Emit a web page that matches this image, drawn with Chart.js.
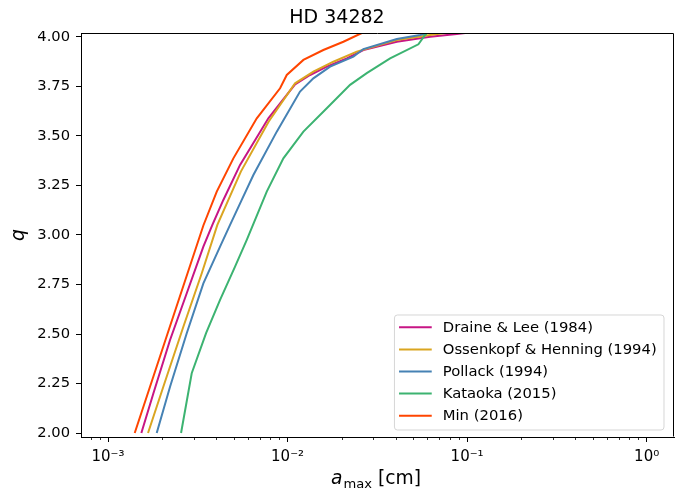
<!DOCTYPE html>
<html>
<head>
<meta charset="utf-8">
<script src="https://cdn.jsdelivr.net/npm/chart.js@4.4.0/dist/chart.umd.min.js"></script>
<style>
html,body{margin:0;padding:0;background:#fff;}
#wrap{width:694px;height:490px;}
</style>
</head>
<body>
<div id="wrap"><canvas id="c" width="694" height="490"></canvas></div>
<script>
// ---------- data ----------
const chartTitle = 'HD 34282';
const seriesLabels = ['Draine & Lee (1984)', 'Ossenkopf & Henning (1994)', 'Pollack (1994)', 'Kataoka (2015)', 'Min (2016)'];
const seriesColors = ['#C71585', '#DAA520', '#4682B4', '#3CB371', '#FF4500'];

const aDraine = [0.001533, 0.001788, 0.002215, 0.002744, 0.003396, 0.003812, 0.004388, 0.005436, 0.007816, 0.01101, 0.01335, 0.01653, 0.02137, 0.02644, 0.04058, 0.06221, 0.08762, 0.0975];
const qDraine = [2.000, 2.200, 2.470, 2.706, 2.941, 3.051, 3.177, 3.354, 3.589, 3.761, 3.808, 3.850, 3.892, 3.934, 3.976, 4.001, 4.015, 4.020];

const aOssenkopf = [0.001670, 0.002032, 0.002627, 0.003327, 0.004063, 0.005492, 0.007837, 0.01101, 0.01392, 0.01800, 0.02429, 0.03275, 0.04058, 0.06221, 0.0754];
const qOssenkopf = [2.000, 2.234, 2.537, 2.807, 3.051, 3.320, 3.572, 3.766, 3.825, 3.875, 3.926, 3.960, 3.985, 4.010, 4.020];

const aPollack = [0.001867, 0.002215, 0.002744, 0.003396, 0.004207, 0.004783, 0.005555, 0.006449, 0.008705, 0.01173, 0.01392, 0.01725, 0.02326, 0.02644, 0.04058, 0.05472, 0.05985];
const qPollack = [2.000, 2.234, 2.504, 2.756, 2.941, 3.051, 3.177, 3.303, 3.522, 3.724, 3.791, 3.850, 3.901, 3.939, 3.990, 4.010, 4.020];

const aKataoka = [0.002551, 0.002925, 0.003516, 0.004207, 0.005098, 0.005926, 0.007656, 0.009476, 0.01225, 0.01653, 0.02229, 0.02761, 0.03724, 0.05354, 0.05834, 0.0598];
const qKataoka = [2.000, 2.302, 2.504, 2.672, 2.840, 2.975, 3.219, 3.387, 3.522, 3.640, 3.758, 3.817, 3.892, 3.963, 4.010, 4.020];

const aMin = [0.001408, 0.002142, 0.003396, 0.004032, 0.004990, 0.006736, 0.009082, 0.009897, 0.01225, 0.01582, 0.02046, 0.02590];
const qMin = [2.000, 2.500, 3.048, 3.219, 3.387, 3.589, 3.741, 3.808, 3.884, 3.934, 3.976, 4.020];

const yTicks = [2.00, 2.25, 2.50, 2.75, 3.00, 3.25, 3.50, 3.75, 4.00];
const xMajorTicks = [1e-3, 1e-2, 1e-1, 1e0];
const xMajorLabels = ['10\u207B\u00B3', '10\u207B\u00B2', '10\u207B\u00B9', '10\u2070'];
const xLimits = [7.07e-4, 1.42];
const yLimits = [1.98, 4.02];

// ---------- build ----------
const FONT = "'DejaVu Sans', sans-serif";
const seriesA = [aDraine, aOssenkopf, aPollack, aKataoka, aMin];
const seriesQ = [qDraine, qOssenkopf, qPollack, qKataoka, qMin];

const datasets = seriesLabels.map((lab, i) => ({
  label: lab,
  data: seriesA[i].map((a, j) => ({x: a, y: seriesQ[i][j]})),
  borderColor: seriesColors[i],
  backgroundColor: seriesColors[i],
  borderWidth: 2,
  pointRadius: 0,
  tension: 0,
  fill: false,
  order: seriesLabels.length - 1 - i
}));

// minor tick values (2..9 x 10^n) inside limits
const xMinorTicks = [];
for (let e = -4; e <= 0; e++) {
  for (let m = 2; m <= 9; m++) {
    const v = m * Math.pow(10, e);
    if (v >= xLimits[0] && v <= xLimits[1]) xMinorTicks.push(v);
  }
}
function isMajorVal(v) {
  const l = Math.log10(v);
  return Math.abs(l - Math.round(l)) < 1e-9;
}

const decorPlugin = {
  id: 'decor',
  afterDraw(chart) {
    const {ctx, chartArea} = chart;
    const xs = chart.scales.x;
    ctx.save();
    // spines (top and right)
    ctx.strokeStyle = '#000';
    ctx.lineWidth = 1;
    const L = Math.round(chartArea.left) + 0.5, R = Math.round(chartArea.right) - 0.5;
    const T = Math.round(chartArea.top) + 0.5, B = Math.round(chartArea.bottom) - 0.5;
    ctx.beginPath();
    ctx.moveTo(L, T); ctx.lineTo(R, T); ctx.lineTo(R, B);
    ctx.stroke();
    // minor ticks on x
    ctx.lineWidth = 0.8;
    xs.ticks.forEach(t => {
      if (isMajorVal(t.value)) return;
      const px = Math.round(xs.getPixelForValue(t.value)) + 0.5;
      ctx.beginPath();
      ctx.moveTo(px, chartArea.bottom);
      ctx.lineTo(px, chartArea.bottom + 3);
      ctx.stroke();
    });

    // x axis label: a_max [cm]
    const big = 18.7, small = 13.1;
    ctx.fillStyle = '#000';
    ctx.textBaseline = 'alphabetic';
    ctx.textAlign = 'left';
    ctx.font = 'italic ' + big + 'px ' + FONT;
    const wA = ctx.measureText('a').width;
    ctx.font = small + 'px ' + FONT;
    const wM = ctx.measureText('max').width;
    ctx.font = big + 'px ' + FONT;
    const wC = ctx.measureText(' [cm]').width;
    const total = wA + 1 + wM + wC;
    const cx = (chartArea.left + chartArea.right) / 2 - 1.5;
    let x0 = cx - total / 2;
    const base = 484;
    ctx.font = 'italic ' + big + 'px ' + FONT;
    ctx.fillText('a', x0, base);
    ctx.font = small + 'px ' + FONT;
    ctx.fillText('max', x0 + wA + 1, base + 4);
    ctx.font = big + 'px ' + FONT;
    ctx.fillText(' [cm]', x0 + wA + 1 + wM, base);

    // legend box (lower right)
    const lf = 14.8;
    ctx.font = lf + 'px ' + FONT;
    const items = chart.data.datasets.map(d => ({label: d.label, color: d.borderColor}));
    const maxW = Math.max(...items.map(it => ctx.measureText(it.label).width));
    const padL = 4.6, handle = 32.7, gap = 11, padR = 7.3, padT = 12.3, padB = 14.3, row = 22.1;
    const w = padL + handle + gap + maxW + padR;
    const h = padT + row * (items.length - 1) + padB;
    const right = chartArea.right - 10, bottom = chartArea.bottom - 7;
    const left = right - w, top = bottom - h;
    const r = 3;
    ctx.beginPath();
    ctx.moveTo(left + r, top);
    ctx.lineTo(right - r, top);
    ctx.arcTo(right, top, right, top + r, r);
    ctx.lineTo(right, bottom - r);
    ctx.arcTo(right, bottom, right - r, bottom, r);
    ctx.lineTo(left + r, bottom);
    ctx.arcTo(left, bottom, left, bottom - r, r);
    ctx.lineTo(left, top + r);
    ctx.arcTo(left, top, left + r, top, r);
    ctx.closePath();
    ctx.fillStyle = 'rgba(255,255,255,0.8)';
    ctx.fill();
    ctx.strokeStyle = 'rgba(204,204,204,0.8)';
    ctx.lineWidth = 1;
    ctx.stroke();
    items.forEach((it, i) => {
      const y = top + padT + i * row;
      ctx.strokeStyle = it.color;
      ctx.lineWidth = 2;
      ctx.beginPath();
      ctx.moveTo(left + padL, y);
      ctx.lineTo(left + padL + handle, y);
      ctx.stroke();
      ctx.fillStyle = '#000';
      ctx.textBaseline = 'middle';
      ctx.fillText(it.label, left + padL + handle + gap, y + 0.5);
    });
    ctx.restore();
  }
};

new Chart(document.getElementById('c'), {
  type: 'line',
  data: {datasets},
  options: {
    responsive: false,
    animation: false,
    events: [],
    devicePixelRatio: 1,
    layout: {padding: {left: 0, right: 20, top: 0, bottom: 0}},
    plugins: {
      legend: {display: false},
      tooltip: {enabled: false},
      title: {
        display: true,
        text: chartTitle,
        color: '#000',
        font: {family: FONT, size: 19, weight: 'normal', lineHeight: 1.2},
        padding: {top: 7.1, bottom: 3.1}
      }
    },
    scales: {
      x: {
        type: 'logarithmic',
        min: xLimits[0],
        max: xLimits[1],
        afterBuildTicks: (scale) => {
          const vals = xMajorTicks.concat(xMinorTicks).filter(v => v >= xLimits[0] && v <= xLimits[1]).sort((a, b) => a - b);
          scale.ticks = vals.map(v => ({value: v, major: isMajorVal(v)}));
        },
        afterFit: (scale) => { scale.height = 53; },
        ticks: {
          autoSkip: false,
          maxRotation: 0,
          minRotation: 0,
          padding: 6,
          color: '#000',
          font: {family: FONT, size: 15},
          callback: (v) => {
            const k = xMajorTicks.findIndex(m => Math.abs(m - v) / m < 1e-9);
            return k >= 0 ? xMajorLabels[k] : '';
          }
        },
        grid: {
          drawOnChartArea: false,
          drawTicks: true,
          tickLength: 5,
          tickWidth: 1,
          tickColor: (ctx) => (ctx.tick && isMajorVal(ctx.tick.value)) ? '#000' : 'rgba(0,0,0,0)'
        },
        border: {display: true, color: '#000', width: 1},
        title: {display: false}
      },
      y: {
        type: 'linear',
        min: yLimits[0],
        max: yLimits[1],
        afterBuildTicks: (scale) => {
          scale.ticks = yTicks.map(v => ({value: v}));
        },
        afterFit: (scale) => { scale.width = 81; },
        ticks: {
          padding: 6,
          color: '#000',
          font: {family: FONT, size: 14.7},
          callback: (v) => Number(v).toFixed(2)
        },
        grid: {
          drawOnChartArea: false,
          drawTicks: true,
          tickLength: 5,
          tickWidth: 1,
          tickColor: '#000'
        },
        border: {display: true, color: '#000', width: 1},
        title: {
          display: true,
          text: 'q',
          color: '#000',
          font: {family: FONT, size: 18.7, style: 'italic', lineHeight: 1.2},
          padding: {top: 8, bottom: 0}
        }
      }
    }
  },
  plugins: [decorPlugin]
});
</script>
</body>
</html>
